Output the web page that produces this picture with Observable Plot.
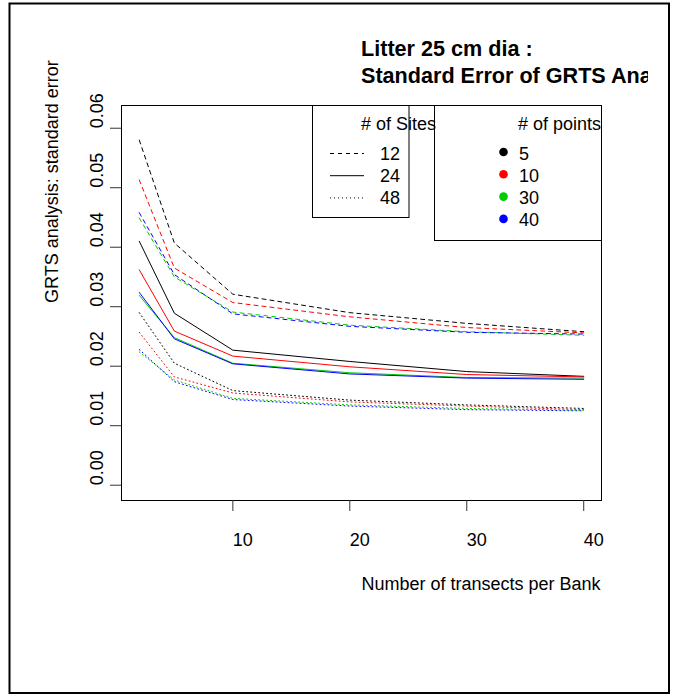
<!DOCTYPE html>
<html>
<head>
<meta charset="utf-8">
<script src="https://cdn.jsdelivr.net/npm/d3@7"></script>
<script src="https://cdn.jsdelivr.net/npm/@observablehq/plot@0.6"></script>
<style>
  body { margin: 0; background: #fff; }
  svg { display: block; }
</style>
</head>
<body>
<div id="chart"></div>
<script>
// Number of transects per bank (x values shared by every series)
const transects = [2, 5, 10, 20, 30, 40];

// Legend categories
const siteCounts = ["12", "24", "48"];
const pointCounts = ["5", "10", "30", "40"];

// Standard error, 12 sites
const se12p5  = [0.0580, 0.0407, 0.0321, 0.0290, 0.0272, 0.0258];
const se12p10 = [0.0513, 0.0365, 0.0307, 0.0283, 0.0265, 0.0256];
const se12p30 = [0.0449, 0.0350, 0.0291, 0.0269, 0.0258, 0.0252];
const se12p40 = [0.0458, 0.0354, 0.0288, 0.0267, 0.0257, 0.0254];
// Standard error, 24 sites
const se24p5  = [0.0410, 0.0289, 0.0227, 0.0208, 0.0191, 0.0183];
const se24p10 = [0.0362, 0.0259, 0.0217, 0.0199, 0.0186, 0.0182];
const se24p30 = [0.0319, 0.0248, 0.0205, 0.0189, 0.0181, 0.0180];
const se24p40 = [0.0324, 0.0246, 0.0204, 0.0187, 0.0180, 0.0178];
// Standard error, 48 sites
const se48p5  = [0.0290, 0.0205, 0.0159, 0.0143, 0.0135, 0.0129];
const se48p10 = [0.0257, 0.0182, 0.0155, 0.0140, 0.0133, 0.0127];
const se48p30 = [0.0224, 0.0177, 0.0146, 0.0135, 0.0129, 0.0126];
const se48p40 = [0.0228, 0.0174, 0.0144, 0.0133, 0.0127, 0.0125];

// Axis ticks and texts
const xTicks = [10, 20, 30, 40];
const yTicks = [0.00, 0.01, 0.02, 0.03, 0.04, 0.05, 0.06];
const titleLines = ["Litter 25 cm dia :", "Standard Error of GRTS Analysis"];
const xLabel = "Number of transects per Bank";
const yLabel = "GRTS analysis: standard error";
const sitesTitle = "# of Sites";
const pointsTitle = "# of points";

// ---- styling ----
const palette = ["#000000", "#FF0000", "#00CD00", "#0000FF"];
const dashes = ["4,4", "none", "1,3"];
const font = "'Liberation Sans', Arial, Helvetica, sans-serif";

const seriesTable = {
  "12": [se12p5, se12p10, se12p30, se12p40],
  "24": [se24p5, se24p10, se24p30, se24p40],
  "48": [se48p5, se48p10, se48p30, se48p40]
};
const rows = [];
for (const s of siteCounts) {
  seriesTable[s].forEach((vals, j) => {
    vals.forEach((v, i) => rows.push({sites: s, points: pointCounts[j], transects: transects[i], se: v}));
  });
}

const W = 674, H = 696;
const chart = Plot.plot({
  width: W,
  height: H,
  marginLeft: 121,
  marginRight: 73,
  marginTop: 105,
  marginBottom: 196,
  x: {domain: [0.48, 41.52]},
  y: {domain: [-0.00257, 0.06382]},
  color: {domain: pointCounts, range: palette},
  style: {fontFamily: font, fontSize: "18px", background: "white", color: "black", overflow: "visible"},
  marks: [
    ...siteCounts.map((s, k) => Plot.line(rows.filter(d => d.sites === s), {
      x: "transects", y: "se", z: "points", stroke: "points",
      strokeWidth: 1, strokeDasharray: dashes[k]
    })),
    Plot.frame({stroke: "black", strokeWidth: 1}),
    Plot.axisX({ticks: xTicks, tickSize: 11, tickFormat: () => "", label: null, stroke: "#333"}),
    Plot.axisY({ticks: yTicks, tickSize: 11, tickFormat: () => "", label: null, stroke: "#333"}),
    Plot.text(xTicks, {x: d => d, text: d => String(d), frameAnchor: "bottom", dy: 45,
      textAnchor: "start", lineAnchor: "bottom", fontSize: 18, fill: "black"}),
    Plot.text(yTicks, {y: d => d, text: d => d3.format(".2f")(d), frameAnchor: "left", dx: -19,
      rotate: -90, textAnchor: "start", lineAnchor: "bottom", fontSize: 18, fill: "black"}),
    Plot.text([xLabel], {text: d => d, frameAnchor: "bottom", dy: 89,
      textAnchor: "start", lineAnchor: "bottom", fontSize: 18, fill: "black"}),
    Plot.text([yLabel], {text: d => d, frameAnchor: "left", dx: -64, rotate: -90,
      textAnchor: "start", lineAnchor: "bottom", fontSize: 18, fill: "black"})
  ]
});

const svg = d3.select(chart);

// Title, clipped at the right edge of the figure region
svg.append("defs").append("clipPath").attr("id", "title-clip")
  .append("rect").attr("x", 0).attr("y", 0).attr("width", 648).attr("height", 100);
const tg = svg.append("g").attr("clip-path", "url(#title-clip)")
  .attr("text-anchor", "start");
tg.selectAll("text").data(titleLines).join("text")
  .attr("x", 361).attr("y", (d, i) => 56 + i * 27)
  .attr("font-family", font).attr("font-size", 21.6).attr("font-weight", "bold")
  .attr("fill", "black").text(d => d);

// Legend: number of sites (line style)
const lg1 = svg.append("g").attr("font-family", font).attr("font-size", 18)
  .attr("text-anchor", "start");
lg1.append("rect").attr("x", 312.5).attr("y", 105.5).attr("width", 96.5).attr("height", 112)
  .attr("fill", "white").attr("stroke", "black");
lg1.append("text").attr("x", 361).attr("y", 130).text(sitesTitle);
siteCounts.forEach((s, i) => {
  const y = 160 + i * 22.2;
  lg1.append("line").attr("x1", 330).attr("x2", 364).attr("y1", y - 6.5).attr("y2", y - 6.5)
    .attr("stroke", "black").attr("stroke-width", 1)
    .attr("stroke-dasharray", dashes[i]);
  lg1.append("text").attr("x", 380).attr("y", y).text(s);
});

// Legend: number of points (colour)
const lg2 = svg.append("g").attr("font-family", font).attr("font-size", 18)
  .attr("text-anchor", "start");
lg2.append("rect").attr("x", 434.5).attr("y", 105.5).attr("width", 167).attr("height", 135)
  .attr("fill", "none").attr("stroke", "black");
lg2.append("text").attr("x", 518).attr("y", 130).text(pointsTitle);
pointCounts.forEach((p, i) => {
  const y = 159.5 + i * 22.3;
  lg2.append("circle").attr("cx", 503.5).attr("cy", y - 7.5).attr("r", 4.3).attr("fill", palette[i]);
  lg2.append("text").attr("x", 519).attr("y", y).text(p);
});

// Outer border of the figure
svg.append("rect").attr("x", 9.5).attr("y", 3.5).attr("width", 659.5).attr("height", 689.5)
  .attr("fill", "none").attr("stroke", "black").attr("stroke-width", 2);

document.getElementById("chart").append(chart);
</script>
</body>
</html>
